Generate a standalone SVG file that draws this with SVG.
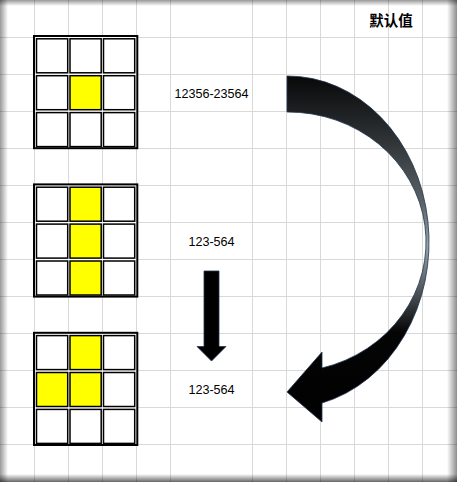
<svg xmlns="http://www.w3.org/2000/svg" width="457" height="482" viewBox="0 0 457 482">
<defs>
<style>
.grid line{stroke:#d9d9d9;stroke-width:1}
.outer{fill:#fff;stroke:#000;stroke-width:2}
.cell{fill:#fff;stroke:#000;stroke-width:1.5}
.cell.y{fill:#ffff00}
.lbl{font-family:"Liberation Sans",Arial,sans-serif;font-size:12.6px;fill:#000;text-anchor:middle}
.title{font-family:"Noto Sans CJK SC","Noto Sans",sans-serif;font-size:14.5px;font-weight:bold;fill:#000;text-anchor:middle}
.arrow{stroke:#1f3550;stroke-width:0.8;stroke-linejoin:miter}
</style>
<linearGradient id="band" gradientUnits="userSpaceOnUse" x1="0" y1="76" x2="0" y2="422">
<stop offset="0" stop-color="#080808"/>
<stop offset="0.17" stop-color="#2b2f32"/>
<stop offset="0.37" stop-color="#5d6469"/>
<stop offset="0.49" stop-color="#9aa3aa"/>
<stop offset="0.62" stop-color="#50565b"/>
<stop offset="0.74" stop-color="#050505"/>
<stop offset="1" stop-color="#000"/>
</linearGradient>
<linearGradient id="shL" x1="0" y1="0" x2="1" y2="0"><stop offset="0" stop-color="#000" stop-opacity="0.4"/><stop offset="1" stop-color="#000" stop-opacity="0"/></linearGradient>
<linearGradient id="shR" x1="1" y1="0" x2="0" y2="0"><stop offset="0" stop-color="#000" stop-opacity="0.45"/><stop offset="1" stop-color="#000" stop-opacity="0"/></linearGradient>
<linearGradient id="shT" x1="0" y1="0" x2="0" y2="1"><stop offset="0" stop-color="#000" stop-opacity="0.4"/><stop offset="1" stop-color="#000" stop-opacity="0"/></linearGradient>
<linearGradient id="shB" x1="0" y1="1" x2="0" y2="0"><stop offset="0" stop-color="#000" stop-opacity="0.6"/><stop offset="1" stop-color="#000" stop-opacity="0"/></linearGradient>
</defs>
<rect width="457" height="482" fill="#fff"/>
<g class="grid">
<line x1="34.5" y1="0" x2="34.5" y2="482"/>
<line x1="68.5" y1="0" x2="68.5" y2="482"/>
<line x1="102.5" y1="0" x2="102.5" y2="482"/>
<line x1="136.5" y1="0" x2="136.5" y2="482"/>
<line x1="170.5" y1="0" x2="170.5" y2="482"/>
<line x1="252.5" y1="0" x2="252.5" y2="482"/>
<line x1="286.5" y1="0" x2="286.5" y2="482"/>
<line x1="320.5" y1="0" x2="320.5" y2="482"/>
<line x1="354.5" y1="0" x2="354.5" y2="482"/>
<line x1="388.5" y1="0" x2="388.5" y2="482"/>
<line x1="422.5" y1="0" x2="422.5" y2="482"/>
<line x1="0" y1="37.5" x2="457" y2="37.5"/>
<line x1="0" y1="74.5" x2="457" y2="74.5"/>
<line x1="0" y1="111.5" x2="457" y2="111.5"/>
<line x1="0" y1="148.5" x2="457" y2="148.5"/>
<line x1="0" y1="185.5" x2="457" y2="185.5"/>
<line x1="0" y1="222.5" x2="457" y2="222.5"/>
<line x1="0" y1="259.5" x2="457" y2="259.5"/>
<line x1="0" y1="296.5" x2="457" y2="296.5"/>
<line x1="0" y1="333.5" x2="457" y2="333.5"/>
<line x1="0" y1="370.5" x2="457" y2="370.5"/>
<line x1="0" y1="407.5" x2="457" y2="407.5"/>
<line x1="0" y1="444.5" x2="457" y2="444.5"/>
</g>
<g id="title"><text class="title" x="391" y="25.5">默认值</text></g>
<g id="table1" transform="translate(0,36)">
<rect class="outer" x="34" y="0" width="103.3" height="112.2"/>
<rect class="cell" x="36.5" y="2.8" width="31.2" height="34"/>
<rect class="cell" x="70" y="2.8" width="31.2" height="34"/>
<rect class="cell" x="103.5" y="2.8" width="31.2" height="34"/>
<rect class="cell" x="36.5" y="39.7" width="31.2" height="34"/>
<rect class="cell y" x="70" y="39.7" width="31.2" height="34"/>
<rect class="cell" x="103.5" y="39.7" width="31.2" height="34"/>
<rect class="cell" x="36.5" y="76.6" width="31.2" height="34"/>
<rect class="cell" x="70" y="76.6" width="31.2" height="34"/>
<rect class="cell" x="103.5" y="76.6" width="31.2" height="34"/>
</g>
<g id="table2" transform="translate(0,184.4)">
<rect class="outer" x="34" y="0" width="103.3" height="112.2"/>
<rect class="cell" x="36.5" y="2.8" width="31.2" height="34"/>
<rect class="cell y" x="70" y="2.8" width="31.2" height="34"/>
<rect class="cell" x="103.5" y="2.8" width="31.2" height="34"/>
<rect class="cell" x="36.5" y="39.7" width="31.2" height="34"/>
<rect class="cell y" x="70" y="39.7" width="31.2" height="34"/>
<rect class="cell" x="103.5" y="39.7" width="31.2" height="34"/>
<rect class="cell" x="36.5" y="76.6" width="31.2" height="34"/>
<rect class="cell y" x="70" y="76.6" width="31.2" height="34"/>
<rect class="cell" x="103.5" y="76.6" width="31.2" height="34"/>
</g>
<g id="table3" transform="translate(0,332.8)">
<rect class="outer" x="34" y="0" width="103.3" height="112.2"/>
<rect class="cell" x="36.5" y="2.8" width="31.2" height="34"/>
<rect class="cell y" x="70" y="2.8" width="31.2" height="34"/>
<rect class="cell" x="103.5" y="2.8" width="31.2" height="34"/>
<rect class="cell y" x="36.5" y="39.7" width="31.2" height="34"/>
<rect class="cell y" x="70" y="39.7" width="31.2" height="34"/>
<rect class="cell" x="103.5" y="39.7" width="31.2" height="34"/>
<rect class="cell" x="36.5" y="76.6" width="31.2" height="34"/>
<rect class="cell" x="70" y="76.6" width="31.2" height="34"/>
<rect class="cell" x="103.5" y="76.6" width="31.2" height="34"/>
</g>
<g id="label1"><text class="lbl" x="211.5" y="98.3">12356-23564</text></g>
<g id="label2"><text class="lbl" x="211.5" y="246">123-564</text></g>
<g id="label3"><text class="lbl" x="211.5" y="394">123-564</text></g>
<g id="connectors">
<path class="arrow" fill="#000" d="M204 271 H219 V346.5 H226 L211.5 361 L197 346.5 H204 Z"/>
<path class="arrow" fill="url(#band)" d="M287 76 A141.5 166 0 0 1 322 403 L322 422 L287 392 L322 352 L322 368 A138 130 0 0 0 287 112 Z"/>
</g>
<g id="frame">
<rect x="0" y="0" width="8" height="482" fill="url(#shL)"/>
<rect x="447" y="0" width="10" height="482" fill="url(#shR)"/>
<rect x="0" y="0" width="457" height="6" fill="url(#shT)"/>
<rect x="0" y="474" width="457" height="8" fill="url(#shB)"/>
</g>
</svg>
